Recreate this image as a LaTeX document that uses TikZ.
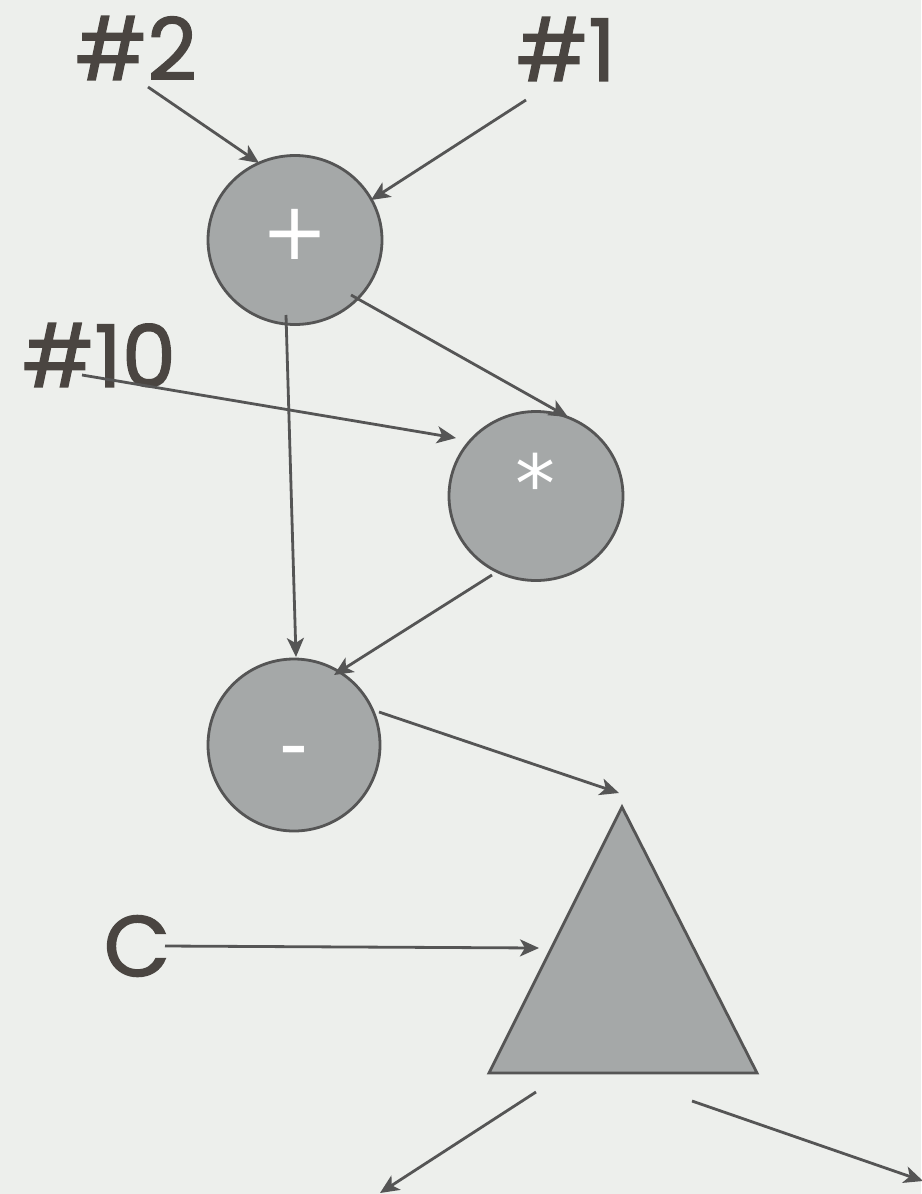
\documentclass[tikz,border=0pt]{standalone}
\usepackage{fontspec}
\setmainfont{Poppins}
\newfontfamily\handfont{Poppins}[FakeBold=1.6]
\newfontfamily\symfont{DejaVu Sans}
\usetikzlibrary{arrows.meta,shapes.geometric,calc}
\definecolor{bg}{RGB}{237,239,236}
\definecolor{ink}{RGB}{85,85,85}
\definecolor{blob}{RGB}{165,168,168}
\definecolor{pen}{RGB}{74,69,65}
\begin{document}
\begin{tikzpicture}[x=1pt,y=-1pt,
  op/.style={ellipse, draw=ink, line width=2.8pt, fill=blob, inner sep=0pt, minimum width=174pt, minimum height=169pt},
  lbl/.style={text=pen, font=\handfont\fontsize{86}{96}\selectfont, inner sep=0pt},
  sym/.style={text=white, font=\symfont\fontsize{80}{90}\selectfont, inner sep=0pt},
  tri/.style={fill=blob, draw=ink, line width=2.8pt, line join=miter},
  arr/.style={draw=ink, line width=2.8pt, -{Stealth[length=19pt,width=17pt,inset=5pt]}}
]
\fill[bg] (0,0) rectangle (921,1194);
\useasboundingbox (0,0) rectangle (921,1194);

% operator circles
\node[op] (plus)  at (295,240) {};
\node[op] (star)  at (536,496) {};
\node[op, minimum width=172pt, minimum height=172pt] (minus) at (294,745) {};
\node[sym] (plusT)  at (295,234) {+};
\node[sym] (starT)  at (535,483) {*};
\node[sym] (minusT) at (294,759) {-};

% triangle
\coordinate (apex) at (622,807);
\coordinate (bl) at (489,1073);
\coordinate (br) at (757,1073);
\draw[tri] (apex) -- (br) -- (bl) -- cycle;

% labels
\node[lbl] (n2)  at (136,48)  {\#2};
\node[lbl] (n1)  at (566,49)  {\#1};
\node[lbl] (n10) at (99,355)  {\#10};
\node[lbl] (c)   at (137,946) {C};

\coordinate (outL) at (380,1193);
\coordinate (outR) at (923,1181);

% connectors
\draw[arr] ([shift={(12,39)}]n2.center) -- ([shift={(-36,-77)}]plus.center);
\draw[arr] ([shift={(-40,51)}]n1.center) -- ([shift={(76,-40)}]plus.center);
\draw[arr] ([shift={(56,55)}]plus.center) -- ([shift={(32,-79)}]star.center);
\draw[arr] ([shift={(-9,75)}]plus.center) -- ([shift={(2,-88)}]minus.center);
\draw[arr] ([shift={(-17,20)}]n10.center) -- ([shift={(-80,-58)}]star.center);
\draw[arr] ([shift={(-44,79)}]star.center) -- ([shift={(40,-70)}]minus.center);
\draw[arr] ([shift={(85,-33)}]minus.center) -- ([shift={(-3,-14)}]apex);
\draw[arr] ([shift={(28,0)}]c.center) -- ([shift={(-83,141)}]apex);
\draw[arr] ([shift={(47,19)}]bl) -- (outL);
\draw[arr] ([shift={(-65,28)}]br) -- (outR);
\end{tikzpicture}
\end{document}
